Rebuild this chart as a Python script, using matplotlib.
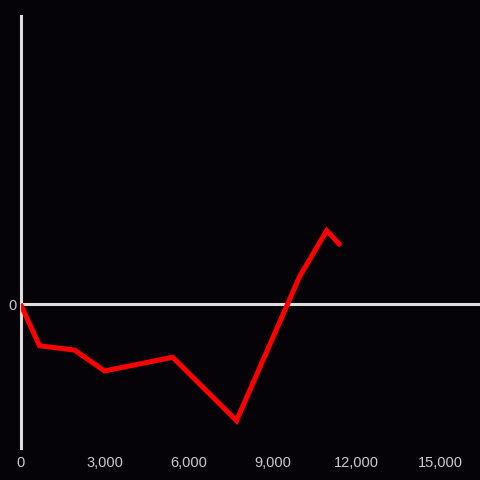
import matplotlib
matplotlib.use("Agg")
import matplotlib.pyplot as plt
from matplotlib.ticker import FuncFormatter

# data
xs = [0, 680, 1930, 3000, 5430, 7710, 9960, 10930, 11430]
ys = [0, -0.29, -0.32, -0.465, -0.37, -0.81, 0.19, 0.51, 0.405]
x_ticks = [0, 3000, 6000, 9000, 12000, 15000]

bg = "#050307"
axis_col = "#dddddd"
label_col = "#cccccc"

fig = plt.figure(figsize=(4.8, 4.8), dpi=100, facecolor=bg)
ax = fig.add_axes([20.5 / 480, 32 / 480, 459.5 / 480, 432 / 480], facecolor=bg)

ax.axhline(0, color=axis_col, lw=2.2, zorder=1)
ax.plot(xs, ys, color="#ff0000", lw=3.6, solid_joinstyle="miter", solid_capstyle="butt", zorder=3)

ax.set_xlim(0, 16400)
ax.set_ylim(-1.0, 2.0)

for s in ["top", "right", "bottom"]:
    ax.spines[s].set_visible(False)
ax.spines["left"].set_color(axis_col)
ax.spines["left"].set_linewidth(2.2)

ax.set_xticks(x_ticks)
ax.xaxis.set_major_formatter(FuncFormatter(lambda v, p: f"{int(v):,}"))
ax.set_yticks([0])
ax.tick_params(axis="both", length=0, colors=label_col, labelsize=10.5)
ax.tick_params(axis="x", pad=6)
ax.tick_params(axis="y", pad=3)
for t in ax.get_xticklabels() + ax.get_yticklabels():
    t.set_fontfamily("Liberation Sans")

fig.savefig("out.png", dpi=100, facecolor=bg)
